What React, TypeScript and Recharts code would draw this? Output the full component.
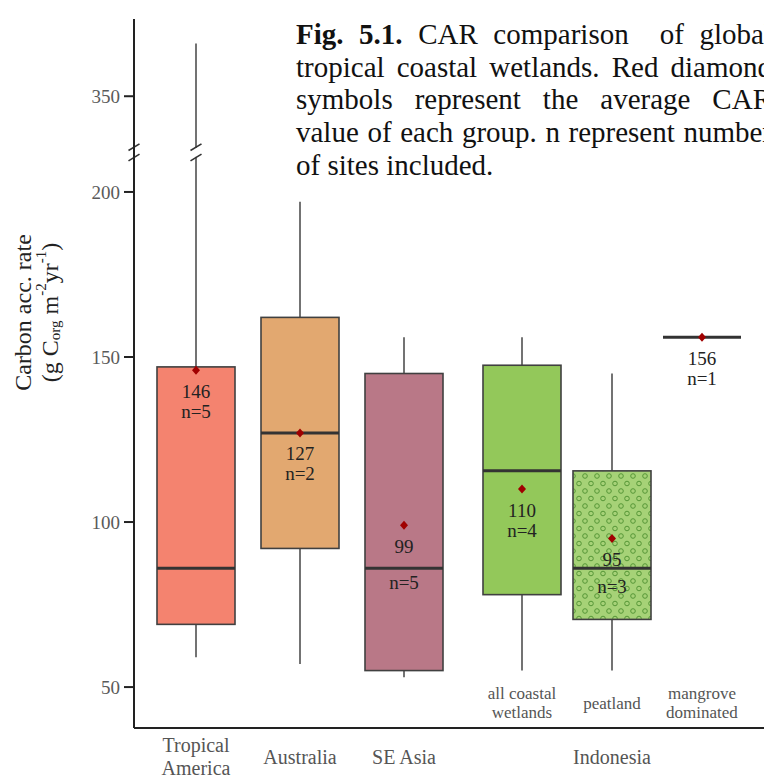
import React from 'react';
import { Bar, ComposedChart, ReferenceLine, Scatter, XAxis, YAxis } from 'recharts';

/**
 * CAR comparison of tropical coastal wetlands — box plots with a broken
 * y-axis (values between BREAK_LOW and BREAK_HIGH are cut out).
 * Two side-by-side panels share the same y-scale so the Indonesia group
 * can sit on its own, tighter spacing.
 */

const BREAK_LOW = 212;
const BREAK_HIGH = 333;
const GAP = BREAK_HIGH - BREAK_LOW;
const toAxis = (v: number) => (v >= BREAK_HIGH ? v - GAP : v);
const fromAxis = (v: number) => (v > BREAK_LOW ? v + GAP : v);

const Y_MIN = 37.6;
const Y_MAX = 373.4;

const categories = [
  'Tropical\nAmerica',
  'Australia',
  'SE Asia',
  'all coastal\nwetlands',
  'peatland',
  'mangrove\ndominated',
];
const groups = ['', '', '', 'Indonesia', 'Indonesia', 'Indonesia'];
const mins = [59, 57, 53, 55, 55, 156];
const q1s = [69, 92, 55, 78, 70.5, 156];
const medians = [86, 127, 86, 115.5, 86, 156];
const q3s = [147, 162, 145, 147.5, 115.5, 156];
const maxs = [366, 197, 156, 156, 145, 156];
const means = [146, 127, 99, 110, 95, 156];
const counts = [5, 2, 5, 4, 3, 1];
const yTicks = [50, 100, 150, 200, 350];

const captionLines = [
  'CAR comparison\u00a0 of global',
  'tropical coastal wetlands. Red diamond',
  'symbols represent the average CAR',
  'value of each group. n represent number',
  'of sites included.',
];

const SERIF = '"Liberation Serif", "Times New Roman", serif';

const boxFill: Record<string, string> = {
  'Tropical\nAmerica': '#f4836f',
  Australia: '#e2a870',
  'SE Asia': '#b97887',
  'all coastal\nwetlands': '#93c85a',
  peatland: 'url(#peat-dots)',
  'mangrove\ndominated': 'none',
};
// hand-placed "n=" labels in the original
const countLabelDy: Record<string, number> = { 'SE Asia': 57, peatland: 48 };

const rows = categories.map((name, i) => ({
  name,
  group: groups[i],
  min: mins[i],
  q1: q1s[i],
  median: medians[i],
  q3: q3s[i],
  max: maxs[i],
  mean: means[i],
  n: counts[i],
  range: [toAxis(mins[i]), toAxis(maxs[i])],
  meanAxis: toAxis(means[i]),
}));
const leftRows = rows.filter((r) => !r.group);
const rightRows = rows.filter((r) => r.group);

const yDomain: [number, number] = [Y_MIN, toAxis(Y_MAX)];

function BreakMark({ x, y }: { x: number; y: number }) {
  return (
    <g>
      <rect x={x - 3} y={y - 4.5} width={6} height={9} fill="#fff" />
      <line x1={x - 5.5} y1={y - 1.8} x2={x + 5.5} y2={y - 8.5} stroke="#333" strokeWidth={1.6} />
      <line x1={x - 5.5} y1={y + 8.5} x2={x + 5.5} y2={y + 1.8} stroke="#333" strokeWidth={1.6} />
    </g>
  );
}

function BoxShape(props: any) {
  const { x, y, width, height, payload } = props;
  const [lo, hi] = payload.range as number[];
  const top = Math.min(y, y + height);
  const h = Math.abs(height);
  const py = (v: number) => (hi === lo ? top : top + (h * (hi - toAxis(v))) / (hi - lo));
  const cx = x + width / 2;
  const yTop = py(payload.q3);
  const yBot = py(payload.q1);
  const yMed = py(payload.median);
  const broken = hi > BREAK_LOW && lo < BREAK_LOW;
  return (
    <g>
      <line x1={cx} x2={cx} y1={py(payload.max)} y2={py(payload.min)} stroke="#444" strokeWidth={1.5} />
      {yBot - yTop > 1 && (
        <rect x={x} y={yTop} width={width} height={yBot - yTop} fill={boxFill[payload.name]} stroke="#404040" strokeWidth={1.6} />
      )}
      <line x1={x} x2={x + width} y1={yMed} y2={yMed} stroke="#333" strokeWidth={3} />
      {broken && <BreakMark x={cx} y={top + (h * (hi - BREAK_LOW)) / (hi - lo)} />}
    </g>
  );
}

function MeanMark(props: any) {
  const { cx, cy, payload } = props;
  const nDy = countLabelDy[payload.name] ?? 41;
  return (
    <g>
      <polygon points={`${cx},${cy - 4.5} ${cx + 4},${cy} ${cx},${cy + 4.5} ${cx - 4},${cy}`} fill="#a00000" />
      <text x={cx} y={cy + 21} textAnchor="middle" dominantBaseline="central" fontFamily={SERIF} fontSize={19} fill="#222">
        {payload.mean}
      </text>
      <text x={cx} y={cy + nDy} textAnchor="middle" dominantBaseline="central" fontFamily={SERIF} fontSize={19} fill="#222">
        n={payload.n}
      </text>
    </g>
  );
}

function MainTick(props: any) {
  const { x, y, payload } = props;
  const lines = String(payload.value).split('\n');
  const start = lines.length > 1 ? 17 : 29;
  return (
    <g>
      {lines.map((l, i) => (
        <text key={i} x={x} y={y + start + i * 23} textAnchor="middle" dominantBaseline="central" fontFamily={SERIF} fontSize={20} fill="#555">
          {l}
        </text>
      ))}
    </g>
  );
}

function SubTick(props: any) {
  const { x, y, payload, index } = props;
  const lines = String(payload.value).split('\n');
  const start = lines.length > 1 ? -35 : -25;
  const group = rightRows[index]?.group;
  return (
    <g>
      {lines.map((l, i) => (
        <text key={i} x={x} y={y + start + i * 19} textAnchor="middle" dominantBaseline="central" fontFamily={SERIF} fontSize={17} fill="#555">
          {l}
        </text>
      ))}
      {index === 1 && (
        <text x={x} y={y + 29} textAnchor="middle" dominantBaseline="central" fontFamily={SERIF} fontSize={20} fill="#555">
          {group}
        </text>
      )}
    </g>
  );
}

function YTitle(props: any) {
  const vb = props.viewBox ?? { x: 0, y: 19, width: 134, height: 709 };
  const cy = vb.y + vb.height / 2 - 61;
  const x1 = vb.x + 23;
  const x2 = vb.x + 50;
  return (
    <g fontFamily={SERIF} fontSize={24} fill="#222">
      <text x={x1} y={cy} textAnchor="middle" dominantBaseline="central" transform={`rotate(-90 ${x1} ${cy})`}>
        Carbon acc. rate
      </text>
      <text x={x2} y={cy} textAnchor="middle" dominantBaseline="central" transform={`rotate(-90 ${x2} ${cy})`}>
        (g C
        <tspan fontSize={15} dy={5}>org</tspan>
        <tspan dy={-5}> m</tspan>
        <tspan fontSize={15} dy={-9}>-2</tspan>
        <tspan dy={9}>yr</tspan>
        <tspan fontSize={15} dy={-9}>-1</tspan>
        <tspan dy={9}>)</tspan>
      </text>
    </g>
  );
}

function AxisBreak(props: any) {
  const vb = props.viewBox;
  if (!vb) return null;
  return <BreakMark x={vb.x} y={vb.y} />;
}

export default function App() {
  return (
    <div
      style={{
        position: 'fixed',
        left: 0,
        top: 0,
        width: 764,
        height: 780,
        overflow: 'hidden',
        background: '#fff',
      }}
    >
      <div style={{ position: 'absolute', left: 0, top: 0 }}>
        <ComposedChart width={456} height={780} data={leftRows} margin={{ top: 19, right: 0, bottom: 0, left: 0 }}>
          <XAxis
            dataKey="name"
            height={52}
            interval={0}
            padding={{ left: 10, right: 0 }}
            axisLine={{ stroke: '#222', strokeWidth: 2 }}
            tickLine={false}
            tickSize={0}
            tickMargin={0}
            tick={<MainTick />}
          />
          <YAxis
            type="number"
            width={134}
            domain={yDomain}
            allowDataOverflow
            ticks={yTicks.map(toAxis)}
            tickFormatter={(v: number) => String(fromAxis(v))}
            axisLine={{ stroke: '#222', strokeWidth: 2 }}
            tickLine={{ stroke: '#222', strokeWidth: 2 }}
            tickSize={10}
            tickMargin={4}
            tick={{ fill: '#5a5a5a', fontSize: 19, fontFamily: SERIF }}
            label={<YTitle />}
          />
          <Bar dataKey="range" barSize={78} shape={(p: any) => <BoxShape {...p} />} isAnimationActive={false} />
          <Scatter dataKey="meanAxis" shape={(p: any) => <MeanMark {...p} />} isAnimationActive={false} />
          <ReferenceLine y={BREAK_LOW} stroke="none" ifOverflow="visible" label={(p: any) => <AxisBreak {...p} />} />
        </ComposedChart>
      </div>

      <div style={{ position: 'absolute', left: 456, top: 0 }}>
        <ComposedChart width={330} height={780} data={rightRows} margin={{ top: 19, right: 0, bottom: 0, left: 0 }}>
          <defs>
            <pattern id="peat-dots" width={12} height={15} patternUnits="userSpaceOnUse">
              <rect width={12} height={15} fill="#a6d277" />
              <circle cx={3} cy={3.5} r={2.3} fill="none" stroke="#559636" strokeWidth={1} />
              <circle cx={9} cy={11} r={2.3} fill="none" stroke="#559636" strokeWidth={1} />
            </pattern>
          </defs>
          <XAxis
            dataKey="name"
            height={52}
            interval={0}
            padding={{ left: 21, right: 39 }}
            axisLine={{ stroke: '#222', strokeWidth: 2 }}
            tickLine={false}
            tickSize={0}
            tickMargin={0}
            tick={<SubTick />}
          />
          <YAxis hide type="number" domain={yDomain} allowDataOverflow />
          <Bar dataKey="range" barSize={78} shape={(p: any) => <BoxShape {...p} />} isAnimationActive={false} />
          <Scatter dataKey="meanAxis" shape={(p: any) => <MeanMark {...p} />} isAnimationActive={false} />
        </ComposedChart>
      </div>

      <div
        style={{
          position: 'absolute',
          left: 296,
          top: 18,
          width: 476,
          fontFamily: SERIF,
          fontSize: 29,
          lineHeight: '32.7px',
          color: '#111',
        }}
      >
        {captionLines.map((line, i) => (
          <div
            key={i}
            style={{
              whiteSpace: 'nowrap',
              textAlign: i < captionLines.length - 1 ? 'justify' : 'left',
              textAlignLast: i < captionLines.length - 1 ? 'justify' : 'left',
            }}
          >
            {i === 0 && <b>Fig. 5.1.</b>} {line}
          </div>
        ))}
      </div>
    </div>
  );
}
